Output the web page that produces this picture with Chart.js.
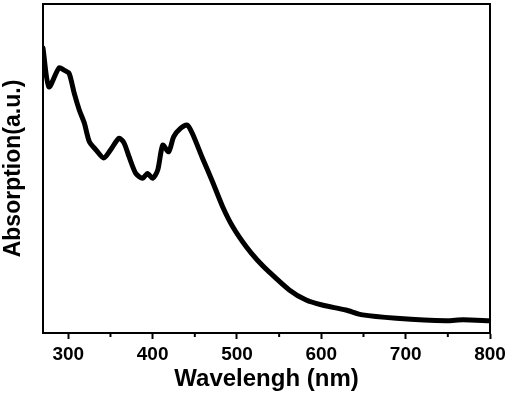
<!DOCTYPE html>
<html>
<head>
<meta charset="utf-8">
<script src="https://cdn.jsdelivr.net/npm/chart.js@4"></script>
<style>
  html, body { margin: 0; padding: 0; background: #fff; }
  #wrap { width: 510px; height: 397px; }
</style>
</head>
<body>
<div id="wrap"><canvas id="chart-abs"></canvas></div>
<script>
/* UV-vis absorption spectrum */

var wavelength = [270, 277, 289, 295, 301, 307, 313, 319, 325, 333, 342, 350, 360, 366, 372, 380, 388, 394, 400, 406,
                  412, 419, 425, 433, 441, 447, 459, 471, 483, 495, 511, 524, 538, 562, 582, 601, 629, 649, 689, 748, 768, 800];
var absorption = [86.6, 74.8, 80.6, 79.9, 78.9, 72.9, 67.8, 63.8, 58.1, 55.6, 53.2, 55.6, 59.2, 57.8, 53.6, 48.5, 47.0, 48.5, 47.0, 49.5,
                  57.1, 55.1, 59.7, 62.2, 63.2, 60.7, 53.2, 46.0, 38.4, 32.3, 26.2, 22.2, 18.6, 13.1, 10.0, 8.5, 7.0, 5.5, 4.5, 3.7, 4.0, 3.7];
var xMajorTicks = [300, 400, 500, 600, 700, 800];
var xMinorTicks = [350, 450, 550, 650, 750];

var FONT = 'Arial, "Liberation Sans", sans-serif';

var pts = wavelength.map(function(w, i){ return { x: w, y: absorption[i] }; });

// frame round the plot + short minor ticks under the x axis
var framePlugin = {
  id: 'frame',
  afterDraw: function(chart) {
    var ctx = chart.ctx, a = chart.chartArea, xs = chart.scales.x;
    ctx.save();
    ctx.strokeStyle = '#000';
    ctx.lineWidth = 2;
    ctx.strokeRect(a.left, a.top, a.right - a.left, a.bottom - a.top);
    ctx.beginPath();
    xMinorTicks.forEach(function(v){
      var px = xs.getPixelForValue(v);
      ctx.moveTo(px, a.bottom);
      ctx.lineTo(px, a.bottom + 4);
    });
    ctx.stroke();
    ctx.restore();
  }
};

new Chart(document.getElementById('chart-abs'), {
  type: 'line',
  data: {
    datasets: [
      { label: 'Absorption', data: pts, borderColor: '#000', borderWidth: 5, pointRadius: 0,
        fill: false, tension: 0.25, borderJoinStyle: 'round', borderCapStyle: 'round' }
    ]
  },
  options: {
    responsive: true,
    maintainAspectRatio: false,
    animation: false,
    layout: { padding: { left: 0, right: 20, top: 4, bottom: 0 } },
    plugins: { legend: { display: false }, tooltip: { enabled: false } },
    scales: {
      x: {
        type: 'linear', min: 270, max: 800,
        afterBuildTicks: function(s){ s.ticks = xMajorTicks.map(function(v){ return { value: v }; }); },
        afterFit: function(s){ s.height = 64; },
        grid: { display: true, drawOnChartArea: false, drawTicks: true, tickLength: 6, tickWidth: 2, tickColor: '#000' },
        border: { display: true, color: '#000', width: 2 },
        ticks: { color: '#000', padding: 4, maxRotation: 0, font: { family: FONT, size: 19, weight: 'bold' } },
        title: { display: true, text: 'Wavelengh (nm)', color: '#000', padding: { top: 0, bottom: 3 },
                 font: { family: FONT, size: 24, weight: 'bold' } }
      },
      y: {
        min: 0, max: 100,
        afterFit: function(s){ s.width = 43; },
        grid: { display: false },
        border: { display: true, color: '#000', width: 2 },
        ticks: { display: false },
        title: { display: true, text: 'Absorption(a.u.)', color: '#000', padding: { top: 0, bottom: 0 },
                 font: { family: FONT, size: 23, weight: 'bold' } }
      }
    }
  },
  plugins: [framePlugin]
});
</script>
</body>
</html>
